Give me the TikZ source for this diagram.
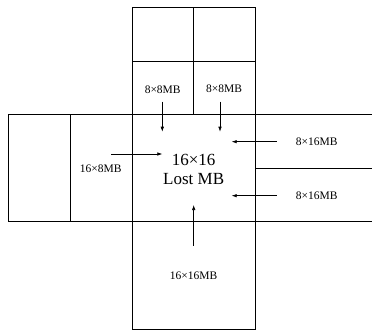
\documentclass[tikz,border=0pt]{standalone}
\usepackage{fontspec}
\setmainfont{Liberation Serif}
\usetikzlibrary{arrows.meta}
\begin{document}
\begin{tikzpicture}[x=1pt,y=-1pt,
  blk/.style={draw, line width=0.8pt},
  lab/.style={font=\fontsize{11.5}{13}\selectfont, inner sep=0},
  big/.style={font=\fontsize{17}{19}\selectfont, align=center, inner sep=0},
  arr/.style={-{Latex[length=5pt,width=3.5pt]}, line width=0.6pt}]
\useasboundingbox (0,0) rectangle (372,330);
% blocks
\draw[blk] (132.3,7.3) rectangle (255.7,329);
\draw[blk] (372,114.3) -- (8.3,114.3) -- (8.3,221.7) -- (372,221.7);
\draw[blk] (70,114.3) -- (70,221.7);
\draw[blk] (132.3,61) -- (255.7,61);
\draw[blk] (193.7,7.3) -- (193.7,114.3);
\draw[blk] (255.7,168.3) -- (372,168.3);
% labels
\node[lab] (tl) at (162.7,89.3) {8×8MB};
\node[lab] (tr) at (224,88.5) {8×8MB};
\node[lab] (lf) at (100.7,168.3) {16×8MB};
\node[lab] (r1) at (316.7,141.7) {8×16MB};
\node[lab] (r2) at (316.7,195.7) {8×16MB};
\node[lab] (bt) at (193.5,276) {16×16MB};
\node[big] (ct) at (193.7,169) {16×16\\Lost MB};
% arrow endpoints
\coordinate (a1s) at (162.3,101.7); \coordinate (a1e) at (162.3,131.7);
\coordinate (a2s) at (220,101.7);   \coordinate (a2e) at (220,131.7);
\coordinate (a3s) at (111,154);     \coordinate (a3e) at (162.3,154);
\coordinate (a4s) at (276.7,141.7); \coordinate (a4e) at (231.7,141.7);
\coordinate (a5s) at (276.7,195.7); \coordinate (a5e) at (231.7,195.7);
\coordinate (a6s) at (193.7,245.7); \coordinate (a6e) at (193.7,205);
\draw[arr] (a1s) -- (a1e);
\draw[arr] (a2s) -- (a2e);
\draw[arr] (a3s) -- (a3e);
\draw[arr] (a4s) -- (a4e);
\draw[arr] (a5s) -- (a5e);
\draw[arr] (a6s) -- (a6e);
\end{tikzpicture}
\end{document}
